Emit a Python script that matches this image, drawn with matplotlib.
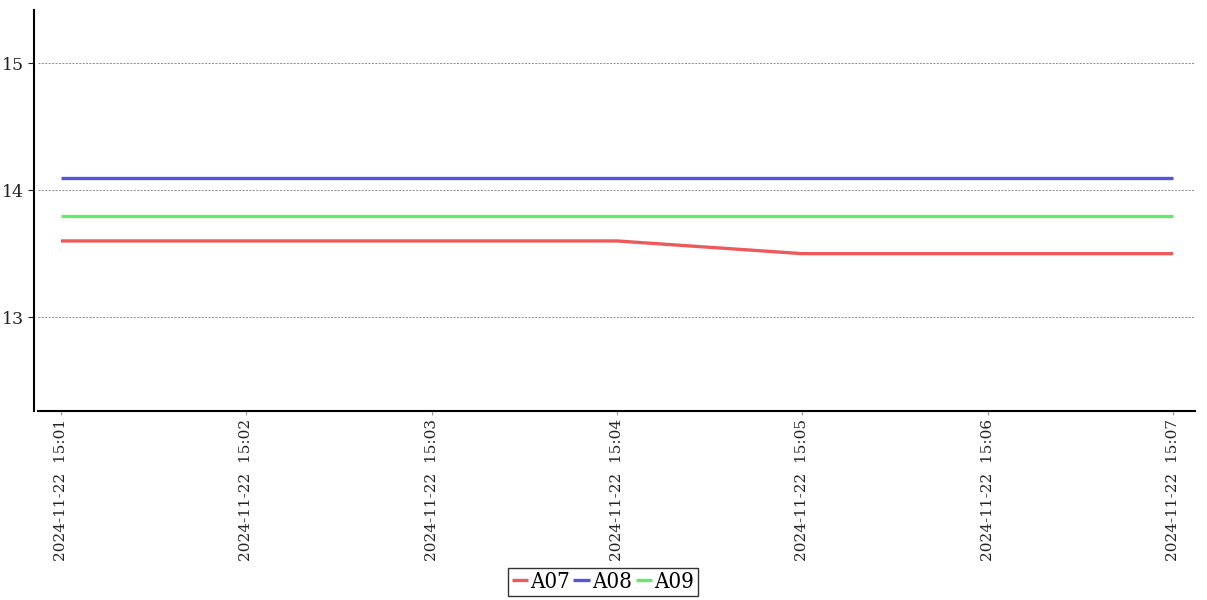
import matplotlib
matplotlib.use("Agg")
import matplotlib.pyplot as plt
import pandas as pd

times = ["2024-11-22 15:01", "2024-11-22 15:02", "2024-11-22 15:03", "2024-11-22 15:04",
         "2024-11-22 15:05", "2024-11-22 15:06", "2024-11-22 15:07"]
a07 = [13.6, 13.6, 13.6, 13.6, 13.5, 13.5, 13.5]
a08 = [14.1, 14.1, 14.1, 14.1, 14.1, 14.1, 14.1]
a09 = [13.8, 13.8, 13.8, 13.8, 13.8, 13.8, 13.8]
series_names = ["A07", "A08", "A09"]
colors = ["#EE5A5A", "#5454DC", "#64EA64"]
yticks = [13, 14, 15]

plt.rcParams['font.family'] = ['DejaVu Serif']
x = pd.to_datetime(times)

fig = plt.figure(figsize=(12.07, 6.0), dpi=100)
ax = fig.add_axes([38/1207, 1-411/600, (1195-38)/1207, (411-10)/600])

for vals, name, c in zip([a07, a08, a09], series_names, colors):
    ax.plot(x, vals, color=c, lw=2.4, label=name, solid_capstyle='butt')

span = (x[-1] - x[0])
pad = span * (23/1112)
ax.set_xlim(x[0] - pad, x[-1] + pad * (22/23))
ax.set_ylim(12.26, 15.42)
ax.set_yticks(yticks)
ax.set_xticks(x)
ax.set_xticklabels([t.replace(" ", "  ") for t in times], rotation=90, fontsize=11, color="#222222")
ax.tick_params(axis='y', labelsize=12.5, colors="#222222", length=4, width=0.8, pad=3)
ax.tick_params(axis='x', length=3, width=0.8, colors="#999999", labelcolor="#222222", pad=3)
ax.grid(axis='y', linestyle=(0, (2, 1.5)), color="#8a8a8a", lw=0.7)
ax.spines['top'].set_visible(False)
ax.spines['right'].set_visible(False)
ax.spines['left'].set_position(('outward', 3))
ax.spines['left'].set_linewidth(1.5)
ax.spines['bottom'].set_linewidth(1.5)

leg = fig.legend(loc='center', bbox_to_anchor=(603/1207, 1-582/600), ncol=3,
                 prop={'family': 'DejaVu Serif', 'size': 16, 'stretch': 'condensed'},
                 frameon=True, fancybox=False, edgecolor='black', handlelength=0.75,
                 handletextpad=0.1, columnspacing=0.15, borderpad=0.15, borderaxespad=0)
leg.get_frame().set_linewidth(1.0)

fig.savefig("out.png", dpi=100)
